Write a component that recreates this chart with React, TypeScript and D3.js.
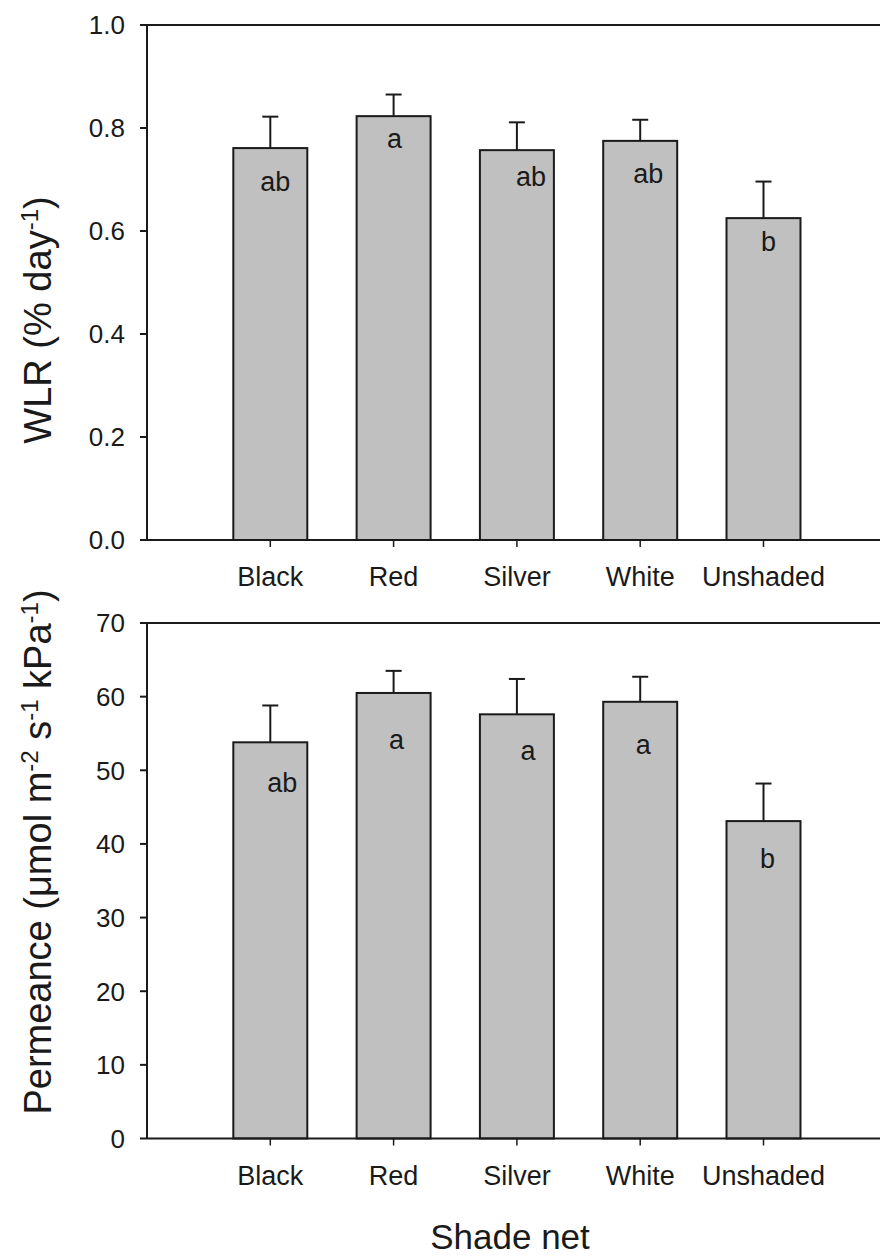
import { useEffect, useRef } from "react";
import * as d3 from "d3";

const CATEGORIES = ["Black", "Red", "Silver", "White", "Unshaded"];

const WLR_MEAN = [0.761, 0.823, 0.757, 0.775, 0.625];
const WLR_ERR = [0.061, 0.042, 0.054, 0.041, 0.071];
const WLR_LETTERS = ["ab", "a", "ab", "ab", "b"];
const WLR_TICKS = [0, 0.2, 0.4, 0.6, 0.8, 1.0];

const PERM_MEAN = [53.8, 60.5, 57.6, 59.3, 43.1];
const PERM_ERR = [5.0, 3.0, 4.8, 3.4, 5.1];
const PERM_LETTERS = ["ab", "a", "a", "a", "b"];
const PERM_TICKS = [0, 10, 20, 30, 40, 50, 60, 70];

const LAYOUT = {
  width: 880,
  height: 1258,
  left: 147,
  right: 887, // right frame falls just outside the picture
  font: "'Liberation Sans', Arial, sans-serif",
};

// hand-placed significance letters: dx from bar centre, dy below bar top
const TOP_LETTER_POS = [
  [5, 43],
  [1, 32],
  [14, 36],
  [8, 42],
  [5, 33],
];
const BOTTOM_LETTER_POS = [
  [12, 50],
  [3, 56],
  [11, 46],
  [3, 52],
  [4, 47],
];

const PANELS = [
  {
    top: 25,
    bottom: 540,
    domain: [0, 1],
    ticks: WLR_TICKS,
    fmt: d3.format(".1f"),
    mean: WLR_MEAN,
    err: WLR_ERR,
    letters: WLR_LETTERS,
    letterPos: TOP_LETTER_POS,
    labelY: 320,
    label: [
      { t: "WLR (% day" },
      { t: "-1", sup: true },
      { t: ")" },
    ],
  },
  {
    top: 623,
    bottom: 1138.5,
    domain: [0, 70],
    ticks: PERM_TICKS,
    fmt: d3.format("d"),
    mean: PERM_MEAN,
    err: PERM_ERR,
    letters: PERM_LETTERS,
    letterPos: BOTTOM_LETTER_POS,
    labelY: 852,
    label: [
      { t: "Permeance (μmol m" },
      { t: "-2", sup: true },
      { t: " s" },
      { t: "-1", sup: true },
      { t: " kPa" },
      { t: "-1", sup: true },
      { t: ")" },
    ],
  },
];

function drawPanel(svg, panel) {
  const x = d3
    .scaleBand()
    .domain(CATEGORIES)
    .range([LAYOUT.left + 123.3 * 0.5, LAYOUT.left + 123.3 * 5.5])
    .paddingInner(0.4)
    .paddingOuter(0.2);
  const y = d3
    .scaleLinear()
    .domain(panel.domain)
    .range([panel.bottom, panel.top]);

  const g = svg.append("g");
  const ink = "#1a1a1a";

  // bars
  CATEGORIES.forEach((c, i) => {
    const x0 = x(c);
    const cx = x0 + x.bandwidth() / 2;
    const yTop = y(panel.mean[i]);
    const yErr = y(panel.mean[i] + panel.err[i]);

    g.append("line")
      .attr("x1", cx)
      .attr("x2", cx)
      .attr("y1", yTop)
      .attr("y2", yErr)
      .attr("stroke", ink)
      .attr("stroke-width", 2);
    g.append("line")
      .attr("x1", cx - 8)
      .attr("x2", cx + 8)
      .attr("y1", yErr)
      .attr("y2", yErr)
      .attr("stroke", ink)
      .attr("stroke-width", 2);

    g.append("rect")
      .attr("x", x0)
      .attr("y", yTop)
      .attr("width", x.bandwidth())
      .attr("height", y(0) - yTop)
      .attr("fill", "#c0c0c0")
      .attr("stroke", ink)
      .attr("stroke-width", 2);

    const [dx, dy] = panel.letterPos[i];
    g.append("text")
      .attr("x", cx + dx)
      .attr("y", yTop + dy)
      .attr("text-anchor", "middle")
      .attr("font-size", 27)
      .attr("fill", ink)
      .text(panel.letters[i]);

    // x tick + label
    g.append("line")
      .attr("x1", cx)
      .attr("x2", cx)
      .attr("y1", panel.bottom)
      .attr("y2", panel.bottom + 7)
      .attr("stroke", ink)
      .attr("stroke-width", 1.5);
    g.append("text")
      .attr("x", cx)
      .attr("y", panel.bottom + 46)
      .attr("text-anchor", "middle")
      .attr("font-size", 27)
      .attr("fill", ink)
      .text(c);
  });

  // frame: left, top, bottom
  g.append("line")
    .attr("x1", LAYOUT.left)
    .attr("x2", LAYOUT.left)
    .attr("y1", panel.top)
    .attr("y2", panel.bottom)
    .attr("stroke", ink)
    .attr("stroke-width", 2);
  [panel.top, panel.bottom].forEach((yy) => {
    g.append("line")
      .attr("x1", LAYOUT.left)
      .attr("x2", LAYOUT.right)
      .attr("y1", yy)
      .attr("y2", yy)
      .attr("stroke", ink)
      .attr("stroke-width", 2);
  });

  // y ticks
  panel.ticks.forEach((t) => {
    g.append("line")
      .attr("x1", LAYOUT.left - 7)
      .attr("x2", LAYOUT.left)
      .attr("y1", y(t))
      .attr("y2", y(t))
      .attr("stroke", ink)
      .attr("stroke-width", 2);
    g.append("text")
      .attr("x", LAYOUT.left - 22)
      .attr("y", y(t))
      .attr("dy", "0.36em")
      .attr("text-anchor", "end")
      .attr("font-size", 26)
      .attr("fill", ink)
      .text(panel.fmt(t));
  });

  // y label with superscripts
  const lab = g
    .append("text")
    .attr("transform", `translate(51,${panel.labelY}) rotate(-90)`)
    .attr("text-anchor", "middle")
    .attr("font-size", 38)
    .attr("fill", ink);
  panel.label.forEach((part) => {
    const span = lab.append("tspan").text(part.t);
    if (part.sup) {
      span.attr("font-size", 24).attr("baseline-shift", "super");
    }
  });
}

export default function App() {
  const ref = useRef(null);

  useEffect(() => {
    const el = ref.current;
    if (!el) return;
    d3.select(el).selectAll("*").remove();

    const svg = d3
      .select(el)
      .append("svg")
      .attr("width", LAYOUT.width)
      .attr("height", LAYOUT.height)
      .style("display", "block")
      .style("font-family", LAYOUT.font);

    svg
      .append("rect")
      .attr("width", LAYOUT.width)
      .attr("height", LAYOUT.height)
      .attr("fill", "#fff");

    PANELS.forEach((p) => drawPanel(svg, p));

    svg
      .append("text")
      .attr("x", 510)
      .attr("y", 1249)
      .attr("text-anchor", "middle")
      .attr("font-size", 35)
      .attr("fill", "#1a1a1a")
      .text("Shade net");
  }, []);

  return (
    <div
      ref={ref}
      style={{
        position: "absolute",
        left: 0,
        top: 0,
        width: LAYOUT.width,
        height: LAYOUT.height,
        overflow: "hidden",
      }}
    />
  );
}
